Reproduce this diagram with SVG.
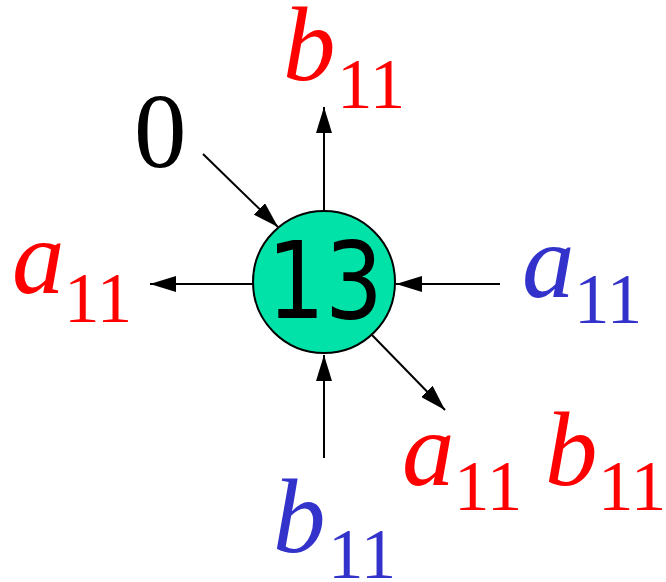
<svg xmlns="http://www.w3.org/2000/svg" width="666" height="582" viewBox="0 0 666 582">
<style>
.v{font-style:italic;font-size:105px}
.s{font-size:71px}
.r{fill:#ff0000}
.b{fill:#3333cc}
.e{stroke:#000;stroke-width:2;fill:none;marker-end:url(#ah)}
</style>
<defs>
<marker id="ah" viewBox="0 0 26 16" markerWidth="26" markerHeight="16" refX="26" refY="8" orient="auto" markerUnits="userSpaceOnUse">
<path d="M0,0 L26,8 L0,16 z" fill="#000"/>
</marker>
</defs>
<g id="connectors">
<line class="e" x1="324" y1="210" x2="324" y2="107"/>
<line class="e" x1="203" y1="154" x2="278" y2="227"/>
<line class="e" x1="253" y1="284" x2="150" y2="284"/>
<line class="e" x1="500" y1="284" x2="396" y2="284"/>
<line class="e" x1="324" y1="458" x2="324" y2="355"/>
<line class="e" x1="372" y1="335" x2="445" y2="410"/>
</g>
<g id="node13">
<circle cx="324" cy="282" r="71" fill="#00e2a8" stroke="#000" stroke-width="2"/>
<text x="267" y="318" font-family="DejaVu Sans, Verdana, sans-serif" font-size="107" textLength="116" lengthAdjust="spacingAndGlyphs" fill="#000">13</text>
</g>
<g font-family="Liberation Serif, Tinos, Times New Roman, Times, Noto Serif, FreeSerif, DejaVu Serif, serif">
<g id="label-top"><text class="v r" x="283" y="80">b</text><text class="s r" x="337" y="108">11</text></g>
<g id="label-zero"><text x="134" y="167" font-size="105" fill="#000">0</text></g>
<g id="label-left"><text class="v r" x="12" y="293">a</text><text class="s r" x="64" y="322">11</text></g>
<g id="label-right"><text class="v b" x="522" y="297">a</text><text class="s b" x="574" y="323">11</text></g>
<g id="label-bottomright"><text class="v r" x="402" y="485">a</text><text class="s r" x="454" y="510">11</text><text class="v r" x="545" y="485">b</text><text class="s r" x="598" y="510">11</text></g>
<g id="label-bottom"><text class="v b" x="273" y="552">b</text><text class="s b" x="328" y="578">11</text></g>
</g>
</svg>
